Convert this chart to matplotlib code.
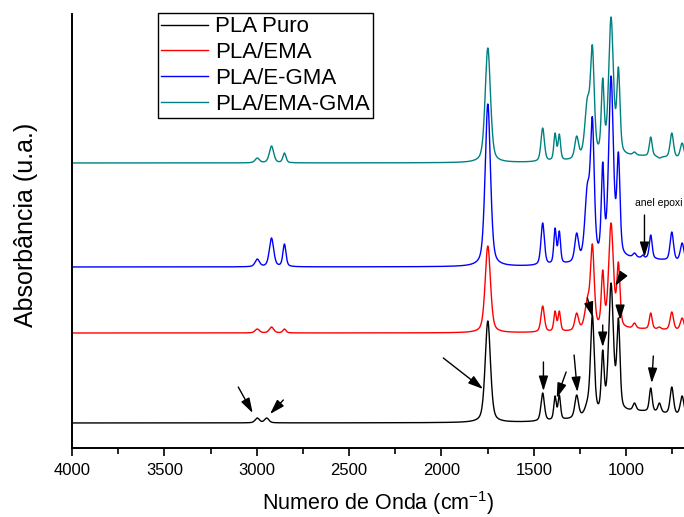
"""FTIR spectra of PLA and its blends, stacked with offsets."""

import matplotlib

matplotlib.use("Agg")
import matplotlib.pyplot as plt
import numpy as np

plt.rcParams["font.family"] = ["Liberation Sans", "DejaVu Sans"]
plt.rcParams["mathtext.fontset"] = "custom"
plt.rcParams["mathtext.rm"] = "Liberation Sans"
plt.rcParams["mathtext.it"] = "Liberation Sans:italic"

SERIES = ["PLA Puro", "PLA/EMA", "PLA/E-GMA", "PLA/EMA-GMA"]
COLORS = ["#000000", "#ff0000", "#0000ff", "#008080"]

# band positions (cm-1) and half widths; the last one is a broad background
PEAK_CENTERS = [2997, 2946, 2920, 2850, 1749, 1452, 1385, 1362, 1268, 1210, 1183, 1127,
                1082, 1042, 955, 910, 867, 820, 753, 697, 930]
PEAK_WIDTHS = [14, 14, 14, 10, 17, 11, 8, 8, 12, 16, 12, 9, 15, 10, 10, 7, 9, 10, 11, 12, 260]

# apparent band heights above each baseline (u.a.)
HEIGHTS_PURO = [5, 5, 0, 0, 102, 30, 27, 28, 28, 24, 108, 73, 140, 105, 20, 0, 35, 20, 36, 27, 13]
HEIGHTS_EMA = [4, 0, 6, 4, 87, 27, 22, 22, 20, 36, 89, 63, 110, 71, 10, 0, 20, 6, 21, 15, 5]
HEIGHTS_EGMA = [8, 0, 29, 23, 163, 44, 39, 36, 34, 84, 150, 105, 191, 115, 14, 12, 32, 8, 35, 24, 10]
HEIGHTS_EMAGMA = [5, 0, 17, 10, 115, 35, 30, 29, 27, 66, 118, 85, 146, 96, 11, 0, 26, 5, 30, 20, 8]
BASELINES = [25, 115, 181, 285]

# arrows: (tail wavenumber, tail y, tip wavenumber, tip y)
ARROWS = [
    (3100, 61, 3022, 35), (2856, 48, 2928, 34), (1990, 90, 1775, 59),
    (1448, 86, 1448, 57), (1325, 76, 1376, 50), (1282, 93, 1264, 56),
    (1210, 150, 1181, 131), (1127, 123, 1127, 101), (1020, 173, 1060, 162),
    (1033, 141, 1033, 128), (853, 92, 862, 65), (901, 233, 901, 191),
]
EPOXY_LABEL = (952, 240, "anel epoxi")


def _band(x, center, width, eta=0.45):
    z = ((x - center) / width) ** 2
    return eta / (1.0 + z) + (1.0 - eta) * np.exp(-np.log(2) * z)


def _spectrum(x, heights, baseline):
    centers = np.array(PEAK_CENTERS, float)
    widths = np.array(PEAK_WIDTHS, float)
    h = np.array(heights, float)
    used = h > 0
    c, w, h = centers[used], widths[used], h[used]
    # amplitudes such that the summed curve reaches the read heights at each band centre
    matrix = np.array([[_band(ci, cj, wj) for cj, wj in zip(c, w)] for ci in c])
    amps = np.linalg.solve(matrix, h)
    y = np.full_like(x, float(baseline))
    for cj, wj, aj in zip(c, w, amps):
        y += aj * _band(x, cj, wj)
    return y


def main():
    fig = plt.figure(figsize=(6.84, 5.17), dpi=100)
    ax = fig.add_axes([72 / 684, 69 / 517, 612 / 684, 434 / 517])

    x = np.linspace(4000, 650, 6701)
    all_heights = [HEIGHTS_PURO, HEIGHTS_EMA, HEIGHTS_EGMA, HEIGHTS_EMAGMA]
    for label, color, heights, base in zip(SERIES, COLORS, all_heights, BASELINES):
        ax.plot(x, _spectrum(x, heights, base), color=color, lw=1.0, label=label)

    for x0, y0, x1, y1 in ARROWS:
        ax.annotate("", xy=(x1, y1), xytext=(x0, y0),
                    arrowprops=dict(arrowstyle="-|>,head_length=0.45,head_width=0.14",
                                    color="black", lw=1.0, mutation_scale=20,
                                    shrinkA=0, shrinkB=0))
    ex, ey, etext = EPOXY_LABEL
    ax.text(ex, ey, etext, fontsize=7.5, va="bottom", ha="left", clip_on=True)

    ax.set_xlim(4000, 687)
    ax.set_ylim(0, 434)
    ax.set_xticks([4000, 3500, 3000, 2500, 2000, 1500, 1000])
    ax.set_xticks(np.arange(3750, 600, -500), minor=True)
    ax.tick_params(axis="x", which="major", direction="out", length=6, width=1.2,
                   labelsize=12, pad=5)
    ax.tick_params(axis="x", which="minor", direction="out", length=4, width=1.2)
    ax.set_yticks([])
    for side in ("top", "right"):
        ax.spines[side].set_visible(False)
    for side in ("left", "bottom"):
        ax.spines[side].set_linewidth(1.4)

    ax.set_xlabel("Numero de Onda (cm$^{\\mathrm{-1}}$)", fontsize=15.5, labelpad=8)
    ax.set_ylabel("Absorbância (u.a.)", fontsize=18)
    ax.yaxis.set_label_coords(-0.056, 0.515)

    leg = ax.legend(loc="upper left", bbox_to_anchor=(158 / 684, 1 - 13 / 517),
                    bbox_transform=fig.transFigure, fontsize=16, frameon=True,
                    fancybox=False, handlelength=2.1, handletextpad=0.3,
                    labelspacing=0.22, borderpad=0.15, borderaxespad=0)
    leg.get_frame().set_edgecolor("black")
    leg.get_frame().set_linewidth(1.0)
    leg.get_frame().set_alpha(1.0)

    fig.savefig("out.png", dpi=100)


if __name__ == "__main__":
    main()
